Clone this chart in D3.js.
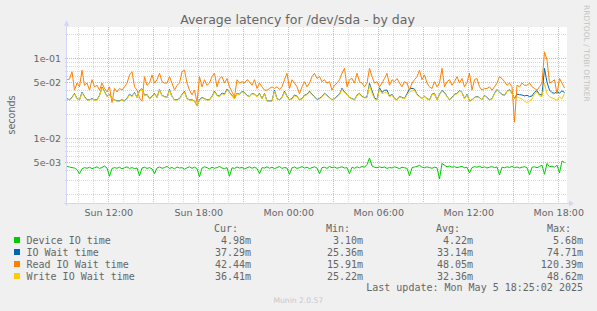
<!DOCTYPE html>
<html><head><meta charset="utf-8">
<script src="https://cdn.jsdelivr.net/npm/d3@7"></script>
<style>
html,body{margin:0;padding:0;background:#f0f0f0;}
svg{display:block;}
</style></head><body>
<svg id="c" width="597" height="311"></svg>
<script>
// ---------- data ----------
const titleText = "Average latency for /dev/sda - by day";
const yAxisLabel = "seconds";
const seriesNames = ["Device IO time", "IO Wait time", "Read IO Wait time", "Write IO Wait time"];
const seriesColors = ["#00cc00", "#0066b3", "#ff8000", "#ffcc00"];
const legendCur = ["4.98m", "37.29m", "42.44m", "36.41m"];
const legendMin = ["3.10m", "25.36m", "15.91m", "25.22m"];
const legendAvg = ["4.22m", "33.14m", "48.05m", "32.36m"];
const legendMax = ["5.68m", "74.71m", "120.39m", "48.62m"];
const lastUpdate = "Last update: Mon May  5 18:25:02 2025";
const footerText = "Munin 2.0.57";
const watermark = "RRDTOOL / TOBI OETIKER";
const yLabelTicks = [0.005, 0.01, 0.05, 0.1];
// time: samples every 10 minutes starting Sun 09:15
const startTime = Date.UTC(2025, 4, 4, 9, 15);
const endTime = Date.UTC(2025, 4, 5, 18, 35);
const stepMinutes = 10;
// values in milliseconds
const deviceIO = [
4.45,4.38,4.30,4.25,4.05,3.60,4.15,4.30,4.22,4.35,
4.18,4.28,4.40,4.20,4.32,4.50,4.25,3.35,4.20,4.30,
4.22,4.35,4.15,4.28,4.40,4.20,4.30,4.18,4.25,3.40,
4.25,4.35,4.20,4.30,4.15,3.62,4.25,4.38,4.22,4.30,
4.45,4.20,4.32,4.15,4.38,4.25,4.30,4.10,4.28,4.40,
4.22,4.35,4.18,3.30,4.25,4.40,4.30,4.15,4.35,4.22,
4.30,4.45,4.25,4.18,4.30,3.35,4.28,4.20,4.38,4.25,
4.32,4.15,4.28,4.40,4.22,4.35,4.20,3.62,4.30,4.25,
4.40,4.22,4.35,4.18,4.30,4.45,4.20,4.32,4.25,3.55,
4.28,4.38,4.20,4.30,4.42,4.25,4.35,4.18,4.30,4.40,
4.25,3.62,4.30,4.35,4.20,4.45,4.28,4.38,4.22,4.32,
4.40,4.25,4.30,3.62,4.35,4.22,4.40,4.28,4.45,4.35,
4.70,5.68,4.50,4.35,4.28,4.40,4.30,4.38,4.20,4.32,
4.25,4.40,4.30,4.18,4.35,4.28,4.22,3.40,4.30,4.38,
4.45,4.60,4.35,4.28,4.40,4.30,4.22,4.35,4.28,3.10,
4.85,4.60,4.40,4.50,4.35,4.42,4.30,4.38,4.45,4.28,
4.35,3.70,4.30,4.42,4.35,4.48,4.30,4.40,4.25,4.35,
4.42,4.30,4.38,3.48,4.35,4.28,4.40,4.32,4.45,4.30,
4.38,4.25,4.35,4.42,4.30,3.50,4.35,4.40,4.28,4.45,
4.60,3.55,4.85,4.40,4.50,4.35,4.60,3.70,5.20,4.98
];
const ioWait = [
31.3,30.3,32.4,36.4,31.3,30.3,37.6,33.4,30.3,30.3,
31.3,30.3,30.4,34.4,43.8,38.5,33.4,35.4,31.3,30.3,
29.3,29.4,30.3,29.4,31.4,35.6,33.5,37.4,32.4,39.5,
41.6,34.4,35.4,31.3,33.5,36.4,32.4,40.5,34.4,33.3,
32.4,40.8,33.4,30.3,30.4,31.3,35.4,38.6,31.4,30.3,
30.3,29.3,25.36,30.4,32.4,31.3,30.3,30.4,33.5,38.8,
34.5,33.6,36.8,35.6,41.0,37.6,34.4,31.3,36.6,35.4,
38.6,37.5,34.4,33.3,36.4,35.5,33.3,36.4,31.3,36.4,
29.3,29.3,29.4,39.8,31.3,30.3,32.4,38.8,33.6,30.3,
31.5,34.8,33.6,30.3,31.4,34.6,35.5,38.8,35.6,33.4,
30.4,31.6,33.4,36.6,34.4,32.3,30.3,31.3,33.5,35.6,
42.2,37.8,35.4,32.4,31.3,30.3,34.6,36.5,33.4,32.3,
33.0,48.5,39.4,32.0,30.5,42.8,37.5,39.8,40.1,33.6,
35.6,31.4,30.3,33.4,32.4,31.4,36.0,41.5,42.1,41.2,
35.6,33.4,31.3,33.5,31.3,30.3,35.6,36.4,30.3,35.5,
39.6,37.5,33.4,30.3,32.4,35.5,36.5,39.5,37.4,31.3,
35.5,29.3,30.3,32.4,33.4,32.3,30.3,34.4,32.4,30.3,
31.3,36.5,40.6,37.5,35.4,34.4,38.5,40.6,36.4,31.3,
35.6,35.1,34.8,33.9,34.5,33.2,33.8,37.6,39.4,35.3,
34.6,74.71,50.2,40.1,37.2,36.6,38.1,36.8,39.2,37.29
];
const readIOWait = [
54,55,68,40,49,44,71,46,49,40,
54,44,46,40,49,42,38,44,28,42,
38,42,40,44,49,62,68,44,40,32,
29,59,46,49,62,49,54,65,51,49,
49,59,49,40,46,49,68,71,49,40,
35,40,28,59,44,54,46,49,59,65,
44,56,59,49,56,44,38,33,54,49,
51,49,54,51,46,54,42,49,44,40,
40,42,44,42,44,41,44,54,65,42,
54,49,44,36,44,51,44,49,59,65,
56,59,51,54,49,51,40,46,49,54,
65,75,44,54,56,49,65,51,49,44,
49,75,59,49,51,44,49,56,65,46,
54,51,56,49,44,51,49,40,49,54,
59,71,54,62,49,44,42,51,44,49,
75,44,51,54,46,51,59,49,56,44,
50,65,40,54,56,44,40,42,42,44,
40,44,49,59,56,51,46,49,44,15.91,
46,44,49,46,46,49,44,42,40,44,
49,120.39,95,49,51,54,36,56,49,42.44
];
const writeIOWait = [
31,30,32,36,31,30,37,33,30,30,
31,30,30,34,43,38,33,35,31,30,
29,29,30,29,31,35,33,37,32,39,
41,34,35,31,33,36,32,40,34,33,
32,40,33,30,30,31,35,38,31,30,
30,29,25.22,30,32,31,30,30,33,38,
34,33,36,35,40,37,34,31,36,35,
38,37,34,33,36,35,33,36,31,36,
29,29,29,39,31,30,32,38,33,30,
31,34,33,30,31,34,35,38,35,33,
30,31,33,36,34,32,30,31,33,35,
41,37,35,32,31,30,34,36,33,32,
32,46,37,31,30,41,36,37,38,33,
35,31,30,33,32,31,35,38,39,40,
35,33,31,33,31,30,35,36,30,35,
39,37,33,30,32,35,36,39,37,31,
35,29,30,32,33,32,30,34,32,30,
31,36,40,37,35,34,38,40,36,31,
33,32,31,29,28,29,31,36,38,34,
33,48.62,36,33,32,31,30,33,31,36.41
];
const seriesData = [deviceIO, ioWait, readIOWait, writeIOWait];

// ---------- layout ----------
const W = 597, H = 311;
const plot = {left: 67, right: 567, top: 27, bottom: 203};
const svg = d3.select("#c");
const FONT = "'DejaVu Sans', sans-serif";
const MONO = "'DejaVu Sans Mono', monospace";
const txtColor = "#666666";
const axisColor = "#cfd6f8";
const gridMinor = "#d8d8d8";
const gridMajor = "#f0a8a8";

svg.append("rect").attr("width", W).attr("height", H).attr("fill", "#f0f0f0");
svg.append("rect").attr("x", plot.left).attr("y", plot.top)
  .attr("width", plot.right - plot.left).attr("height", plot.bottom - plot.top).attr("fill", "#ffffff");

const x = d3.scaleUtc().domain([new Date(startTime), new Date(endTime)]).range([plot.left, plot.right]);
const y = d3.scaleLog().domain([0.001553, 0.2462]).range([plot.bottom, plot.top]);

// ---------- grid ----------
const grid = svg.append("g").attr("shape-rendering", "crispEdges");
const hVals = [];
[0.001, 0.01, 0.1].forEach(dec => { for (let m = 1; m <= 9; m++) { const v = dec * m; if (v >= y.domain()[0] && v <= y.domain()[1]) hVals.push({v, major: (m === 1 || m === 5)}); } });
grid.selectAll("line.h").data(hVals).join("line").attr("class", "h")
  .attr("x1", plot.left - 2).attr("x2", plot.right)
  .attr("y1", d => Math.round(y(d.v)) + 0.5).attr("y2", d => Math.round(y(d.v)) + 0.5)
  .attr("stroke", d => d.major ? gridMajor : gridMinor).attr("stroke-dasharray", "1,1");
const vVals = d3.utcHour.range(new Date(startTime), new Date(endTime)).map(t => ({t, major: t.getUTCHours() % 3 === 0}));
grid.selectAll("line.v").data(vVals).join("line").attr("class", "v")
  .attr("y1", plot.top).attr("y2", plot.bottom + 2)
  .attr("x1", d => Math.round(x(d.t)) + 0.5).attr("x2", d => Math.round(x(d.t)) + 0.5)
  .attr("stroke", d => d.major ? gridMajor : gridMinor).attr("stroke-dasharray", "1,1");

// ---------- axes lines & arrows ----------
svg.append("line").attr("x1", plot.left - 0.5).attr("x2", plot.left - 0.5).attr("y1", plot.top - 4).attr("y2", plot.bottom + 3)
  .attr("stroke", axisColor).attr("shape-rendering", "crispEdges");
svg.append("line").attr("x1", plot.left - 3).attr("x2", plot.right + 4).attr("y1", plot.bottom + 0.5).attr("y2", plot.bottom + 0.5)
  .attr("stroke", axisColor).attr("shape-rendering", "crispEdges");
svg.append("path").attr("d", `M${plot.left - 3},${plot.top - 1}L${plot.left - 0.5},${plot.top - 7}L${plot.left + 2},${plot.top - 1}Z`).attr("fill", axisColor);
svg.append("path").attr("d", `M${plot.right + 2},${plot.bottom - 2.5}L${plot.right + 7},${plot.bottom + 0.5}L${plot.right + 2},${plot.bottom + 3.5}Z`).attr("fill", axisColor);

// ---------- lines ----------
svg.append("clipPath").attr("id", "clip").append("rect")
  .attr("x", plot.left).attr("y", plot.top).attr("width", plot.right - plot.left).attr("height", plot.bottom - plot.top);
const line = d3.line()
  .x((d, i) => x(new Date(startTime + i * stepMinutes * 60000)))
  .y(d => y(d / 1000));
const lines = svg.append("g").attr("clip-path", "url(#clip)");
seriesData.forEach((s, k) => {
  lines.append("path").datum(s).attr("d", line).attr("fill", "none")
    .attr("stroke", seriesColors[k]).attr("stroke-width", 1).attr("stroke-linejoin", "round");
});

// ---------- axis labels ----------
const fmtExp = v => { const e = Math.floor(Math.log10(v) + 1e-9); const m = Math.round(v / Math.pow(10, e)); return m + "e" + (e < 0 ? "-" : "+") + String(Math.abs(e)).padStart(2, "0"); };
const yAx = svg.append("g").attr("transform", `translate(${plot.left},0)`)
  .call(d3.axisLeft(y).tickValues(yLabelTicks).tickFormat(fmtExp).tickSize(0).tickPadding(6));
yAx.select(".domain").remove();
yAx.selectAll("text").attr("font-family", FONT).attr("font-size", "9.5px").attr("fill", txtColor);

const xAx = svg.append("g").attr("transform", `translate(0,${plot.bottom})`)
  .call(d3.axisBottom(x).ticks(d3.utcHour.every(6)).tickFormat(d3.utcFormat("%a %H:%M")).tickSize(0).tickPadding(6));
xAx.select(".domain").remove();
xAx.selectAll("text").attr("font-family", FONT).attr("font-size", "9.5px").attr("fill", txtColor);

svg.append("text").attr("transform", `translate(15,${(plot.top + plot.bottom) / 2}) rotate(-90)`)
  .attr("text-anchor", "middle").attr("font-family", FONT).attr("font-size", "9.6px").attr("fill", txtColor).text(yAxisLabel);

svg.append("text").attr("x", 297.5).attr("y", 24).attr("text-anchor", "middle")
  .attr("font-family", FONT).attr("font-size", "12.5px").attr("fill", txtColor).text(titleText);

svg.append("text").attr("transform", "translate(583.5,5) rotate(90)")
  .attr("font-family", FONT).attr("font-size", "7.5px").attr("fill", "#c4c4c4").text(watermark);

// ---------- legend ----------
const leg = svg.append("g").attr("font-family", MONO).attr("font-size", "10px").attr("fill", txtColor).style("white-space", "pre");
const headY = 231.5;
[["Cur:", 214], ["Min:", 326], ["Avg:", 436], ["Max:", 547]].forEach(([t, hx]) => leg.append("text").attr("x", hx).attr("y", headY).text(t));
const rowY = i => 243.5 + i * 12;
seriesNames.forEach((n, i) => {
  leg.append("rect").attr("x", 14).attr("y", rowY(i) - 6.5).attr("width", 6).attr("height", 6).attr("fill", seriesColors[i]);
  leg.append("text").attr("x", 26.5).attr("y", rowY(i)).text(n);
  leg.append("text").attr("x", 251).attr("y", rowY(i)).attr("text-anchor", "end").text(legendCur[i]);
  leg.append("text").attr("x", 363).attr("y", rowY(i)).attr("text-anchor", "end").text(legendMin[i]);
  leg.append("text").attr("x", 473).attr("y", rowY(i)).attr("text-anchor", "end").text(legendAvg[i]);
  leg.append("text").attr("x", 583).attr("y", rowY(i)).attr("text-anchor", "end").text(legendMax[i]);
});
leg.append("text").attr("x", 583).attr("y", 291).attr("text-anchor", "end").text(lastUpdate);

svg.append("text").attr("x", 273.5).attr("y", 303).attr("font-family", FONT).attr("font-size", "7.6px").attr("fill", "#c8c8c8").text(footerText);
</script>
</body></html>
